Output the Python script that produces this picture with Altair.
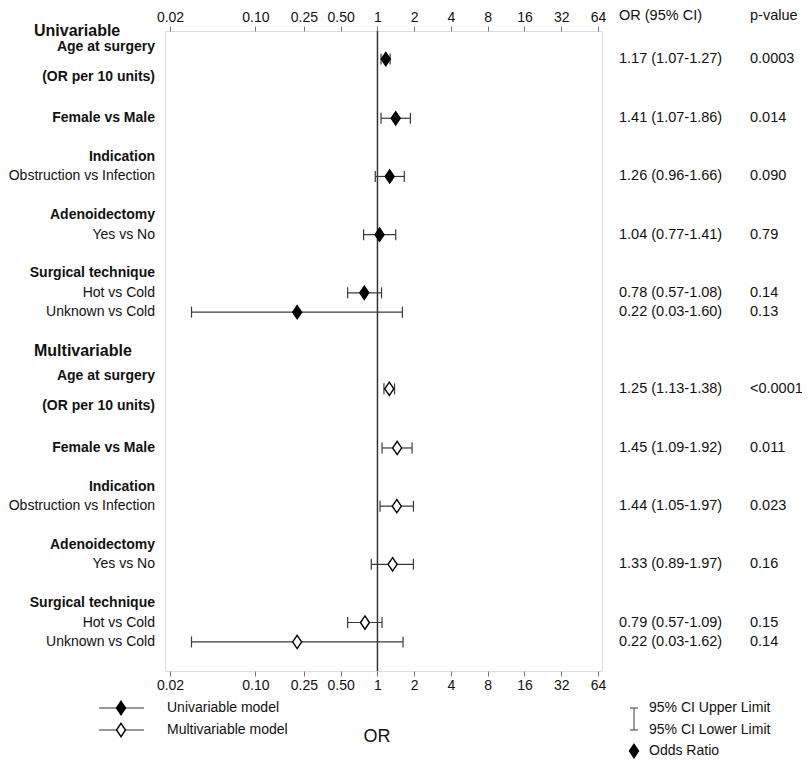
import altair as alt
import pandas as pd

# ---------------- data ----------------
models = ["Univariable", "Multivariable"]
comparisons = ["Age at surgery", "Female vs Male", "Obstruction vs Infection",
               "Yes vs No", "Hot vs Cold", "Unknown vs Cold"]
uni_or = [1.17, 1.41, 1.26, 1.04, 0.78, 0.22]
uni_lo = [1.07, 1.07, 0.96, 0.77, 0.57, 0.03]
uni_hi = [1.27, 1.86, 1.66, 1.41, 1.08, 1.60]
uni_p = ["0.0003", "0.014", "0.090", "0.79", "0.14", "0.13"]
multi_or = [1.25, 1.45, 1.44, 1.33, 0.79, 0.22]
multi_lo = [1.13, 1.09, 1.05, 0.89, 0.57, 0.03]
multi_hi = [1.38, 1.92, 1.97, 1.97, 1.09, 1.62]
multi_p = ["<0.0001", "0.011", "0.023", "0.16", "0.15", "0.14"]
x_ticks = [0.02, 0.10, 0.25, 0.50, 1, 2, 4, 8, 16, 32, 64]

# left-hand label lines of each block: (text, bold)
label_lines = [("Age at surgery", True), ("(OR per 10 units)", True),
               ("Female vs Male", True), ("Indication", True),
               ("Obstruction vs Infection", False), ("Adenoidectomy", True),
               ("Yes vs No", False), ("Surgical technique", True),
               ("Hot vs Cold", False), ("Unknown vs Cold", False)]

# ---------------- layout (row slots) ----------------
ITEM_SLOT = [1.45, 4.5, 7.5, 10.5, 13.5, 14.5]
LABEL_SLOT = [0.8, 2.35, 4.5, 6.5, 7.5, 9.5, 10.5, 12.5, 13.5, 14.5]
SECTION_OFFSET = [0, 17]
HEADER_SLOT = [0, 16.5]
N_ROWS = 33

est_rows = []
for m, off, ors, los, his, ps in zip(models, SECTION_OFFSET,
                                      [uni_or, multi_or], [uni_lo, multi_lo],
                                      [uni_hi, multi_hi], [uni_p, multi_p]):
    for comp, slot, o, lo, hi, p in zip(comparisons, ITEM_SLOT, ors, los, his, ps):
        est_rows.append(dict(model=m, comp=comp, row=slot + off, OR=o, lo=lo, hi=hi,
                             ci=f"{o:.2f} ({lo:.2f}-{hi:.2f})", p=p))
est = pd.DataFrame(est_rows)

lab_rows = []
for off in SECTION_OFFSET:
    for (txt, bold), slot in zip(label_lines, LABEL_SLOT):
        lab_rows.append(dict(text=txt, bold=bold, row=slot + off))
labs = pd.DataFrame(lab_rows)
heads = pd.DataFrame(dict(text=models, row=HEADER_SLOT))
tick_rows = [s + off for off in SECTION_OFFSET for s in ITEM_SLOT]

# ---------------- scales / axes ----------------
W, H = 437, 640
FONT = "Liberation Sans"
TXT = "#111111"
BAR = "#3a3a3a"
xs = alt.Scale(type="log", domain=[0.0182, 69], nice=False)
ys = alt.Scale(domain=[0, N_ROWS], reverse=True, nice=False, zero=False)
label_expr = "datum.value < 1 ? format(datum.value, '.2f') : format(datum.value, 'd')"


def xaxis(orient):
    return alt.Axis(orient=orient, values=x_ticks, labelExpr=label_expr, title=None,
                    tickSize=5, tickColor="#777777", domain=False, grid=False,
                    labelFontSize=14, labelPadding=2, labelFont=FONT, labelColor=TXT,
                    labelFlush=False, labelOverlap=False)


yaxis = alt.Axis(values=tick_rows, labels=False, ticks=True, tickSize=5,
                 tickColor="#777777", domain=False, grid=False, title=None)

DIAMOND = "M0,-1L0.68,0L0,1L-0.68,0Z"

ref = alt.Chart(pd.DataFrame({"v": [1]})).mark_rule(color="#333333", strokeWidth=1.5).encode(
    x=alt.X("v:Q", scale=xs, axis=xaxis("top")))

ci = alt.Chart(est).mark_rule(color=BAR, strokeWidth=1.2).encode(
    x=alt.X("lo:Q", scale=xs, axis=xaxis("bottom")), x2="hi:Q",
    y=alt.Y("row:Q", scale=ys, axis=yaxis))

caps = alt.Chart(est).transform_fold(["lo", "hi"], as_=["end", "val"]).mark_tick(
    orient="vertical", size=11, thickness=1.2, color=BAR, opacity=1).encode(
    x=alt.X("val:Q", scale=xs, axis=None), y=alt.Y("row:Q", scale=ys, axis=None))

pts = alt.Chart(est).mark_point(shape=DIAMOND, size=176, filled=True, stroke="black",
                                strokeWidth=1.4, opacity=1).encode(
    x=alt.X("OR:Q", scale=xs, axis=None), y=alt.Y("row:Q", scale=ys, axis=None),
    fill=alt.Fill("model:N", scale=alt.Scale(domain=models, range=["black", "white"]), legend=None))

lab_bold = alt.Chart(labs).transform_filter("datum.bold").mark_text(
    align="right", baseline="middle", font=FONT, fontSize=14, fontWeight="bold", color=TXT).encode(
    x=alt.value(-10), y=alt.Y("row:Q", scale=ys, axis=None), text="text:N")
lab_norm = alt.Chart(labs).transform_filter("!datum.bold").mark_text(
    align="right", baseline="middle", font=FONT, fontSize=14, color=TXT).encode(
    x=alt.value(-10), y=alt.Y("row:Q", scale=ys, axis=None), text="text:N")
head_txt = alt.Chart(heads).mark_text(
    align="left", baseline="middle", font=FONT, fontSize=16, fontWeight="bold", color=TXT).encode(
    x=alt.value(-131), y=alt.Y("row:Q", scale=ys, axis=None), text="text:N")

ci_txt = alt.Chart(est).mark_text(align="left", baseline="middle", font=FONT, fontSize=14.5,
                                  color=TXT).encode(
    x=alt.value(454), y=alt.Y("row:Q", scale=ys, axis=None), text="ci:N")
p_txt = alt.Chart(est).mark_text(align="left", baseline="middle", font=FONT, fontSize=14.5,
                                 color=TXT).encode(
    x=alt.value(585), y=alt.Y("row:Q", scale=ys, axis=None), text="p:N")

# ---------------- legend / free text ----------------
one = pd.DataFrame({"a": [0]})
L1, L2, L3 = 677, 699, 720


def leg_line(y):
    return alt.Chart(one).mark_rule(color="#333333", strokeWidth=1.2).encode(
        x=alt.value(-66), x2=alt.value(-21), y=alt.value(y))


def leg_dia(x, y, fill):
    return alt.Chart(one).mark_point(shape=DIAMOND, size=176, filled=True, fill=fill,
                                     stroke="black", strokeWidth=1.4, opacity=1).encode(
        x=alt.value(x), y=alt.value(y))


def leg_text(x, y, t, size=14, align="left"):
    return alt.Chart(pd.DataFrame({"t": [t]})).mark_text(
        align=align, baseline="middle", font=FONT, fontSize=size, color=TXT).encode(
        x=alt.value(x), y=alt.value(y), text="t:N")


extras = [
    leg_text(454, -15, "OR (95% CI)", size=14.5),
    leg_text(585, -15, "p-value", size=14.5),
    leg_line(L1), leg_dia(-44, L1, "black"), leg_text(2, L1, "Univariable model"),
    leg_line(L2), leg_dia(-44, L2, "white"), leg_text(2, L2, "Multivariable model"),
    leg_text(212, 706, "OR", size=18, align="center"),
    alt.Chart(one).mark_rule(color=BAR).encode(x=alt.value(469), y=alt.value(L1), y2=alt.value(L2)),
    alt.Chart(one).mark_rule(color=BAR).encode(x=alt.value(465), x2=alt.value(473), y=alt.value(L1)),
    alt.Chart(one).mark_rule(color=BAR).encode(x=alt.value(465), x2=alt.value(473), y=alt.value(L2)),
    leg_text(484, L1, "95% CI Upper Limit"), leg_text(484, L2, "95% CI Lower Limit"),
    leg_dia(469, L3, "black"), leg_text(484, L3, "Odds Ratio"),
]

chart = alt.layer(ref, ci, caps, pts, lab_bold, lab_norm, head_txt, ci_txt, p_txt,
                  *extras).resolve_axis(x="independent").properties(
    width=W, height=H,
    autosize=alt.AutoSizeParams(type="none"),
    padding={"left": 157, "top": 23, "right": 200, "bottom": 88},
).configure_view(stroke="#777777", strokeWidth=1).configure(background="white")

chart.save("out.html", embed_options={"renderer": "svg", "actions": False})
